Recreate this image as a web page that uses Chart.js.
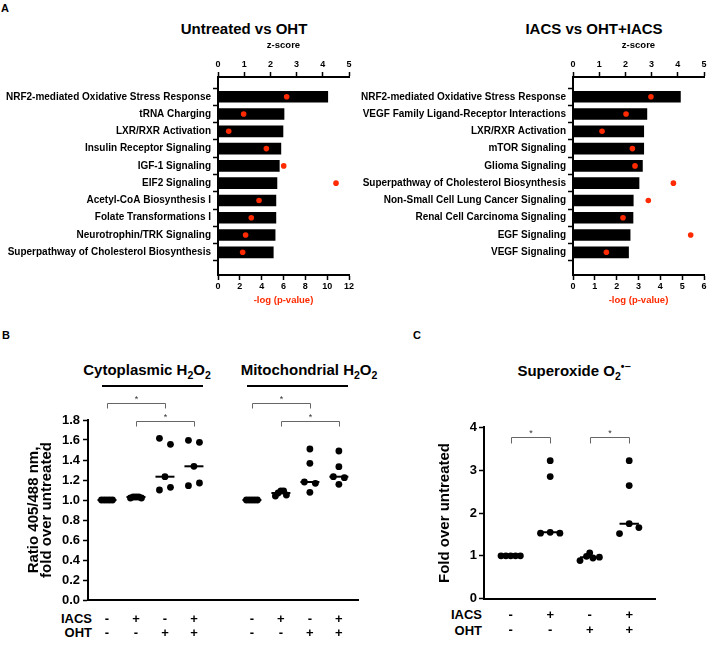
<!DOCTYPE html>
<html>
<head>
<meta charset="utf-8">
<script src="https://cdn.jsdelivr.net/npm/chart.js@4.4.1/dist/chart.umd.min.js"></script>
<style>
  body { margin: 0; background: #fff; font-family: "Liberation Sans", Arial, sans-serif; }
  #fig { position: relative; width: 709px; height: 645px; overflow: hidden; background: #fff; }
  canvas { position: absolute; }
  .t { position: absolute; font-weight: bold; white-space: nowrap; line-height: 1; color: #000; }
  .c { transform: translateX(-50%); }
  .rule { position: absolute; height: 2px; background: #000; }
  sub, sup { font-size: 70%; line-height: 0; }
</style>
</head>
<body>
<div id="fig">
  <div class="t" style="left:1px;top:3px;font-size:11px">A</div>
  <div class="t c" style="left:244px;top:21px;font-size:15px">Untreated vs OHT</div>
  <div class="t c" style="left:594px;top:21px;font-size:15px">IACS vs OHT+IACS</div>

  <div class="t" style="left:2px;top:330px;font-size:11px">B</div>
  <div class="t" style="left:413px;top:330px;font-size:11px">C</div>
  <div class="t c" style="left:147px;top:362px;font-size:15px">Cytoplasmic H<sub>2</sub>O<sub>2</sub></div>
  <div class="t c" style="left:309px;top:362px;font-size:15px">Mitochondrial H<sub>2</sub>O<sub>2</sub></div>
  <div class="rule" style="left:102px;top:385px;width:101px"></div>
  <div class="rule" style="left:247px;top:385px;width:101px"></div>
  <div class="t c" style="left:574px;top:363px;font-size:15px">Superoxide O<sub>2</sub><sup>•−</sup></div>

  <div class="t" style="right:617px;top:612px;font-size:13px">IACS</div>
  <div class="t" style="right:617px;top:626px;font-size:13px">OHT</div>
  <div class="t" style="right:227px;top:608px;font-size:13px">IACS</div>
  <div class="t" style="right:227px;top:624px;font-size:13px">OHT</div>

  <canvas id="a1" width="360" height="312" style="left:0;top:0"></canvas>
  <canvas id="a2" width="354" height="312" style="left:355px;top:0"></canvas>
  <canvas id="b" width="370" height="265" style="left:0;top:380px"></canvas>
  <canvas id="c" width="309" height="265" style="left:400px;top:380px"></canvas>
</div>

<script>
const F = '"Liberation Sans", Arial, sans-serif';
Chart.defaults.font.family = F;
Chart.defaults.color = '#000';

// ---- panel A data ----
const pathwaysA1 = ['NRF2-mediated Oxidative Stress Response', 'tRNA Charging', 'LXR/RXR Activation',
  'Insulin Receptor Signaling', 'IGF-1 Signaling', 'EIF2 Signaling', 'Acetyl-CoA Biosynthesis I',
  'Folate Transformations I', 'Neurotrophin/TRK Signaling', 'Superpathway of Cholesterol Biosynthesis'];
const zScoreA1 = [4.19, 2.52, 2.48, 2.40, 2.34, 2.25, 2.21, 2.21, 2.18, 2.11];
const logPA1 = [6.29, 2.35, 0.98, 4.43, 6.02, 10.81, 3.76, 3.05, 2.53, 2.26];

const pathwaysA2 = ['NRF2-mediated Oxidative Stress Response', 'VEGF Family Ligand-Receptor Interactions',
  'LXR/RXR Activation', 'mTOR Signaling', 'Glioma Signaling', 'Superpathway of Cholesterol Biosynthesis',
  'Non-Small Cell Lung Cancer Signaling', 'Renal Cell Carcinoma Signaling', 'EGF Signaling', 'VEGF Signaling'];
const zScoreA2 = [4.10, 2.82, 2.70, 2.70, 2.65, 2.52, 2.30, 2.29, 2.18, 2.12];
const logPA2 = [3.57, 2.43, 1.33, 2.72, 2.84, 4.60, 3.45, 2.29, 5.39, 1.53];

// ---- panel B / C data ----
const iacsSigns = ['-', '+', '-', '+'];
const ohtSigns = ['-', '-', '+', '+'];
const cytoH2O2 = [
  [1.00, 1.00, 1.00, 1.00, 1.00],
  [1.02, 1.03, 1.03, 1.03, 1.02],
  [1.617, 1.557, 1.233, 1.10, 1.127],
  [1.597, 1.577, 1.337, 1.143, 1.17]
];
const mitoH2O2 = [
  [1.00, 1.00, 1.00, 1.00, 1.00],
  [1.04, 1.07, 1.09, 1.09, 1.05],
  [1.51, 1.367, 1.18, 1.167, 1.077],
  [1.49, 1.333, 1.233, 1.223, 1.157]
];
const superoxide = [
  [1.00, 1.00, 1.00, 1.00, 1.00],
  [3.22, 2.85, 1.53, 1.55, 1.53],
  [1.07, 0.89, 0.99, 0.95, 0.97],
  [3.22, 2.64, 1.52, 1.75, 1.66]
];
const sigPairsB = [[0, 2], [1, 3], [4, 6], [5, 7]];
const sigPairsC = [[0, 1], [2, 3]];

const RED = '#ff2a00';
const bold = (size, extra) => Object.assign({ family: F, size: size, weight: 'bold' }, extra || {});

function pathwayChart(id, names, z, p, pMax, pStep, padRight) {
  new Chart(document.getElementById(id), {
    type: 'bar',
    data: {
      datasets: [
        { type: 'scatter', xAxisID: 'xBot', yAxisID: 'y', data: p.map((v, i) => ({ x: v, y: i })),
          pointRadius: 2.8, pointBackgroundColor: RED, pointBorderWidth: 0 },
        { type: 'bar', indexAxis: 'y', xAxisID: 'xTop', yAxisID: 'y', data: z.map((v, i) => ({ x: v, y: i })),
          backgroundColor: '#000', barThickness: 11 }
      ]
    },
    options: {
      animation: false, responsive: false, indexAxis: 'y',
      layout: { padding: { top: 0, left: 0, bottom: 0, right: padRight } },
      plugins: { legend: { display: false }, tooltip: { enabled: false } },
      scales: {
        y: {
          type: 'linear', position: 'left', reverse: true, min: -0.57, max: 9.74,
          afterBuildTicks: s => { s.ticks = names.map((n, i) => ({ value: i })); },
          afterFit: s => { s.width = 218; },
          ticks: { autoSkip: false, padding: 2, font: bold(10), callback: v => names[v] },
          grid: { drawOnChartArea: false, tickLength: 5, tickWidth: 1.5, tickColor: '#000' },
          border: { width: 2, color: '#000' }
        },
        xTop: {
          type: 'linear', axis: 'x', position: 'top', min: 0, max: 5,
          afterFit: s => { s.height = 77; },
          ticks: { stepSize: 1, padding: 2, font: bold(9) },
          grid: { drawOnChartArea: false, tickLength: 5, tickWidth: 1.5, tickColor: '#000' },
          border: { width: 2, color: '#000' },
          title: { display: true, text: 'z-score', font: bold(9.5), padding: { top: 40, bottom: 0 } }
        },
        xBot: {
          type: 'linear', axis: 'x', position: 'bottom', min: 0, max: pMax,
          afterFit: s => { s.height = 37; },
          ticks: { stepSize: pStep, padding: 1.5, font: bold(9) },
          grid: { drawOnChartArea: false, tickLength: 5, tickWidth: 1.5, tickColor: '#000' },
          border: { width: 2, color: '#000' },
          title: { display: true, text: '-log (p-value)', color: RED, font: bold(9.5), padding: { top: 0, bottom: 6 } }
        }
      }
    }
  });
}

pathwayChart('a1', pathwaysA1, zScoreA1, logPA1, 12, 2, 11);
pathwayChart('a2', pathwaysA2, zScoreA2, logPA2, 6, 1, 5);

// spread dots that sit at about the same height side by side
function swarm(values, rowGap, spread) {
  const order = values.map((v, i) => i).sort((a, b) => values[a] - values[b]);
  const rows = [];
  let row = null;
  order.forEach(i => {
    if (!row || values[i] - values[row[0]] >= rowGap) { row = [i]; rows.push(row); }
    else row.push(i);
  });
  const off = values.map(() => 0);
  rows.forEach(r => {
    r.sort((a, b) => a - b);
    if (r.length > 1) r.forEach((i, k) => { off[i] = (k / (r.length - 1) - 0.5) * spread; });
  });
  return off;
}
const median = a => { const s = [...a].sort((x, y) => x - y); return s[Math.floor(s.length / 2)]; };

const bracketPlugin = {
  id: 'brackets',
  afterDraw(chart, args, opts) {
    const { ctx } = chart;
    const x = chart.scales.x, y = chart.scales.y;
    ctx.save();
    ctx.strokeStyle = '#666';
    ctx.lineWidth = 1;
    ctx.fillStyle = '#333';
    ctx.font = '9px ' + F;
    ctx.textAlign = 'center';
    ctx.textBaseline = 'bottom';
    opts.items.forEach(b => {
      const x1 = Math.round(x.getPixelForValue(b.from)) + 0.5;
      const x2 = Math.round(x.getPixelForValue(b.to)) + 0.5;
      const yy = Math.round(y.getPixelForValue(b.level)) + 0.5;
      ctx.beginPath();
      ctx.moveTo(x1, yy + opts.leg);
      ctx.lineTo(x1, yy);
      ctx.lineTo(x2, yy);
      ctx.lineTo(x2, yy + opts.leg);
      ctx.stroke();
      ctx.fillText('*', (x1 + x2) / 2, yy + 1);
    });
    ctx.restore();
  }
};

function dotDatasets(groups, positions, rowGap, spread, lineWidth, radius) {
  const dots = [];
  const lines = [];
  groups.forEach((vals, g) => {
    const off = swarm(vals, rowGap, spread);
    vals.forEach((v, i) => dots.push({ x: positions[g] + off[i], y: v }));
    const m = median(vals);
    lines.push({
      type: 'line', data: [{ x: positions[g] - lineWidth / 2, y: m }, { x: positions[g] + lineWidth / 2, y: m }],
      borderColor: '#000', borderWidth: 2, pointRadius: 0, showLine: true
    });
  });
  return lines.concat([{ type: 'scatter', data: dots, pointRadius: radius, pointBackgroundColor: '#000', pointBorderWidth: 0 }]);
}

function signAxis(positions, min, max, pad, lh, xHeight) {
  return {
    type: 'linear', min: min, max: max,
    afterBuildTicks: s => { s.ticks = positions.map(p => ({ value: p })); },
    afterFit: s => { s.height = xHeight; },
    ticks: {
      autoSkip: false, padding: pad, font: bold(13, { lineHeight: lh + 'px' }),
      callback: v => { const g = positions.indexOf(v) % 4; return [iacsSigns[g], ohtSigns[g]]; }
    },
    grid: { display: true, drawOnChartArea: false, drawTicks: false },
    border: { width: 2, color: '#000' }
  };
}

// ---- panel B ----
const posB = [0, 1, 2, 3, 5, 6, 7, 8];
new Chart(document.getElementById('b'), {
  type: 'scatter',
  data: { datasets: dotDatasets(cytoH2O2.concat(mitoH2O2), posB, 0.065, 0.38, 0.655, 3.4) },
  plugins: [bracketPlugin],
  options: {
    animation: false, responsive: false,
    layout: { padding: { top: 40, left: 0, right: 12, bottom: 0 } },
    plugins: {
      legend: { display: false }, tooltip: { enabled: false },
      brackets: { leg: 5, items: sigPairsB.map((p, i) => ({ from: posB[p[0]], to: posB[p[1]], level: i % 2 ? 1.79 : 1.97 })) }
    },
    scales: {
      x: signAxis(posB, -0.655, 8.66, 12, 14, 45),
      y: {
        min: 0, max: 1.8,
        afterFit: s => { s.width = 88; },
        ticks: { stepSize: 0.2, padding: 3, font: bold(13), callback: v => v.toFixed(1) },
        grid: { drawOnChartArea: false, tickLength: 5, tickWidth: 1.5, tickColor: '#000' },
        border: { width: 2, color: '#000' },
        title: { display: true, text: ['Ratio 405/488 nm,', 'fold over untreated'], font: bold(15, { lineHeight: '13px' }), padding: { top: 27 } }
      }
    }
  }
});

// ---- panel C ----
const posC = [0, 1, 2, 3];
new Chart(document.getElementById('c'), {
  type: 'scatter',
  data: { datasets: dotDatasets(superoxide, posC, 0.156, 0.49, 0.49, 3.4) },
  plugins: [bracketPlugin],
  options: {
    animation: false, responsive: false,
    layout: { padding: { top: 47.3, left: 0, right: 54, bottom: 0 } },
    plugins: {
      legend: { display: false }, tooltip: { enabled: false },
      brackets: { leg: 6, items: sigPairsC.map(p => ({ from: posC[p[0]], to: posC[p[1]], level: 3.77 })) }
    },
    scales: {
      x: signAxis(posC, -0.676, 3.653, 8.8, 15, 46.3),
      y: {
        min: 0, max: 4,
        afterFit: s => { s.width = 84; },
        ticks: { stepSize: 1, padding: 2, font: bold(13) },
        grid: { drawOnChartArea: false, tickLength: 5, tickWidth: 1.5, tickColor: '#000' },
        border: { width: 2, color: '#000' },
        title: { display: true, text: 'Fold over untreated', font: bold(15), padding: { top: 36 } }
      }
    }
  }
});
</script>
</body>
</html>
